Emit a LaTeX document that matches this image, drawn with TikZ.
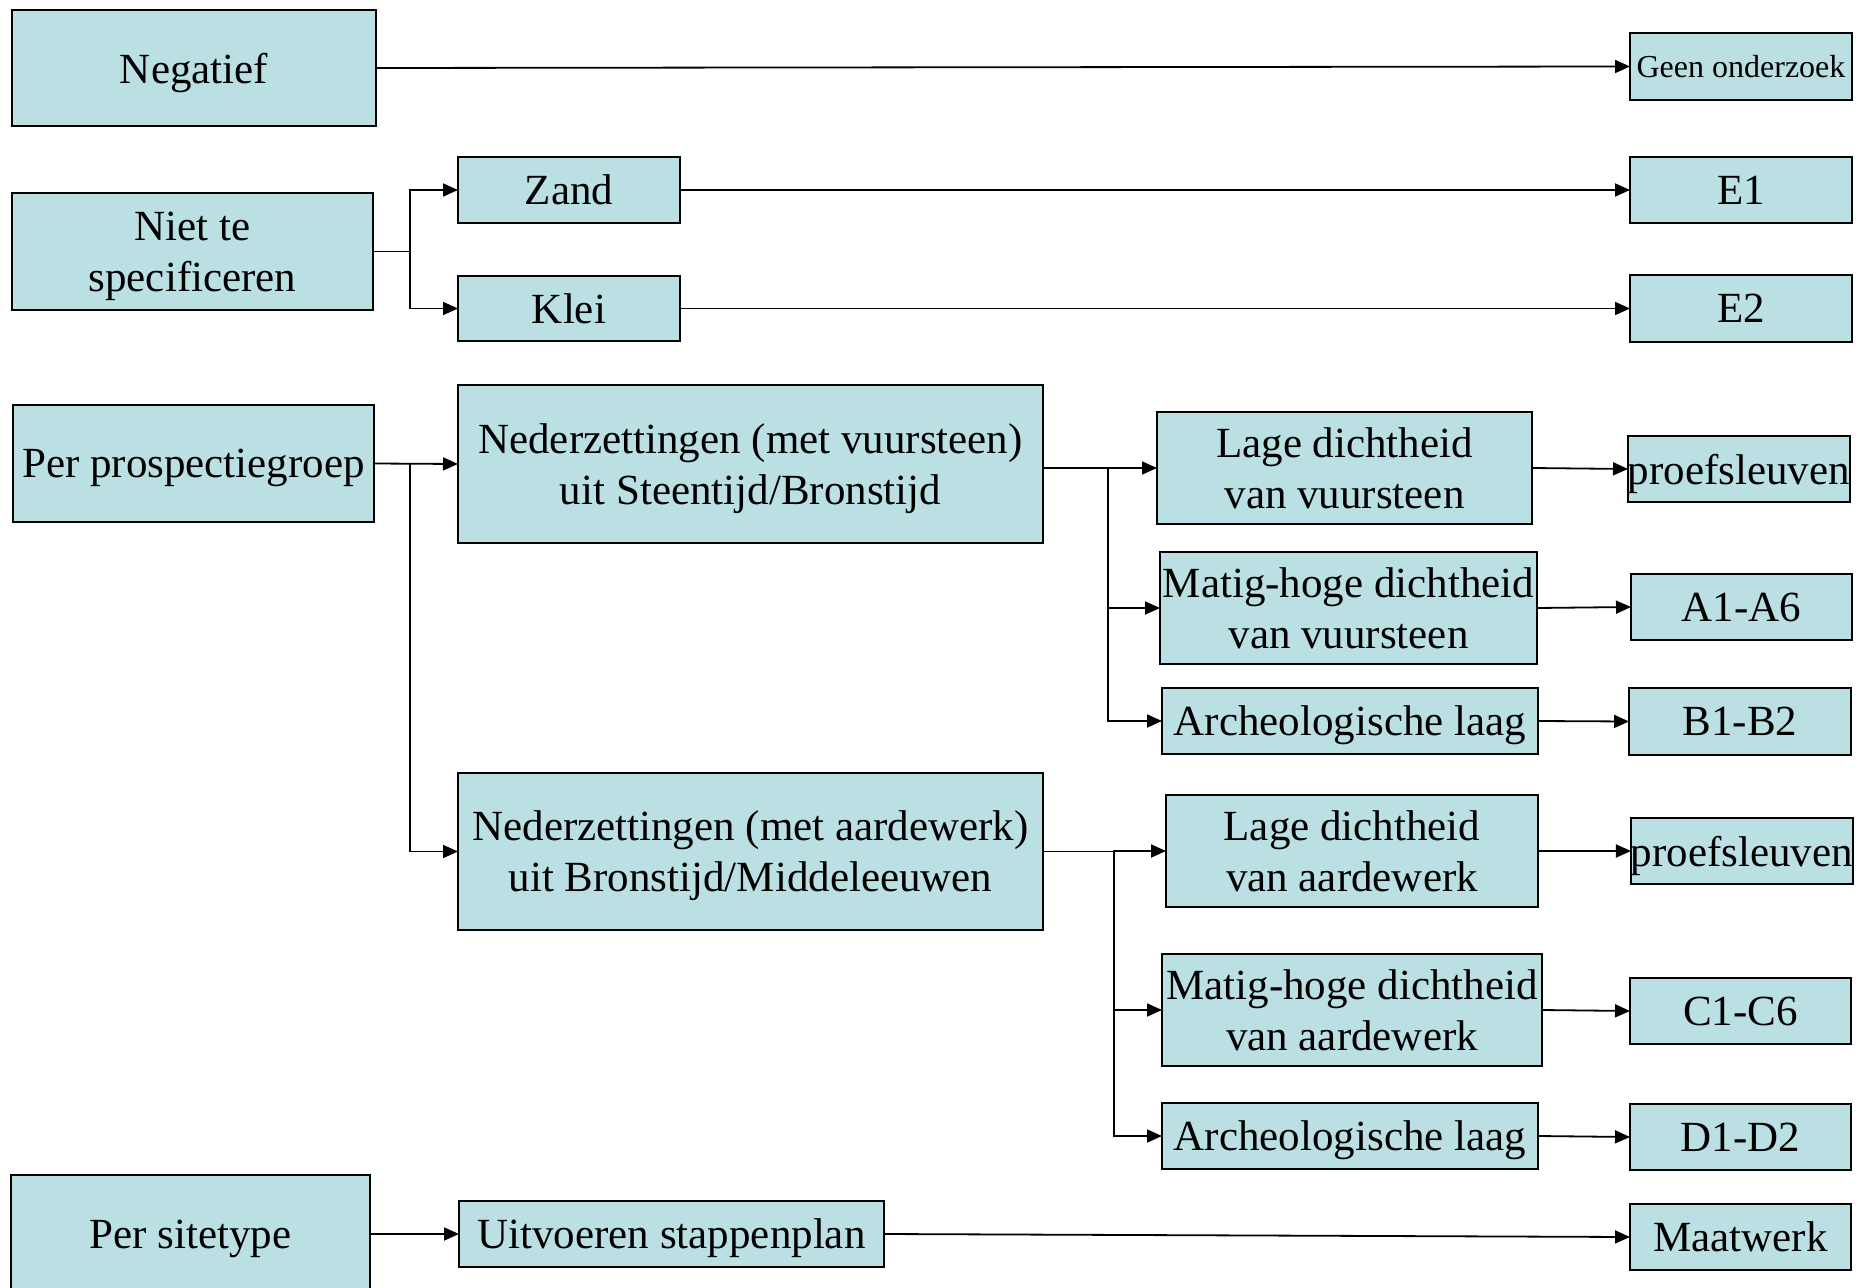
\documentclass[tikz,border=0pt]{standalone}
\usepackage{fontspec}
\setmainfont{Liberation Serif}
\usetikzlibrary{arrows.meta}
\definecolor{boxfill}{RGB}{187,224,227}
\tikzset{
 box/.style={draw=black, fill=boxfill, line width=1pt, inner sep=0pt, outer sep=0pt, align=center, text depth=0pt, font=\fontsize{21.5}{25.5}\selectfont},
 smallbox/.style={font=\fontsize{16}{19}\selectfont},
 conn/.style={line width=0.9pt, draw=black},
 arr/.style={conn, -{Triangle[length=7.5pt,width=6.5pt]}},
}
\newcommand\mkbox[7][]{%
 \pgfmathsetmacro\bxw{(#5-#3)*0.5}%
 \pgfmathsetmacro\bxh{(#6-#4)*0.5}%
 \node[box,#1,minimum width=\bxw pt,minimum height=\bxh pt] (#2) at ({(#3+#5)/2},{(#4+#6)/2}) {#7};}
\begin{document}
\begin{tikzpicture}[x=0.5pt,y=-0.5pt]
\useasboundingbox (0,0) rectangle (1861,1288);
% left column
\mkbox{neg}{12}{10}{376}{126}{Negatief}
\mkbox{niet}{12}{193}{373}{310}{Niet te\\specificeren}
\mkbox{ppg}{13}{405}{374}{522}{Per prospectiegroep}
\mkbox{pst}{11}{1175}{370}{1293}{Per sitetype}
% second column
\mkbox{zand}{458}{157}{680}{223}{Zand}
\mkbox{klei}{458}{276}{680}{341}{Klei}
\mkbox{nv}{458}{385}{1043}{543}{Nederzettingen (met vuursteen)\\uit Steentijd/Bronstijd}
\mkbox{na}{458}{773}{1043}{930}{Nederzettingen (met aardewerk)\\uit Bronstijd/Middeleeuwen}
\mkbox{uit}{459}{1201}{884}{1267}{Uitvoeren stappenplan}
% third column
\mkbox{lv}{1157}{412}{1532}{524}{Lage dichtheid\\van vuursteen}
\mkbox{mv}{1160}{552}{1537}{664}{Matig-hoge dichtheid\\van vuursteen}
\mkbox{al1}{1162}{688}{1538}{754}{Archeologische laag}
\mkbox{la}{1166}{795}{1538}{907}{Lage dichtheid\\van aardewerk}
\mkbox{ma}{1162}{954}{1542}{1066}{Matig-hoge dichtheid\\van aardewerk}
\mkbox{al2}{1162}{1103}{1538}{1169}{Archeologische laag}
% right column
\mkbox[smallbox]{geen}{1630}{33}{1852}{100}{Geen onderzoek}
\mkbox{e1}{1630}{157}{1852}{223}{E1}
\mkbox{e2}{1630}{275}{1852}{342}{E2}
\mkbox{p1}{1628}{436}{1850}{502}{proefsleuven}
\mkbox{aa}{1631}{574}{1852}{640}{A1-A6}
\mkbox{bb}{1629}{688}{1851}{755}{B1-B2}
\mkbox{p2}{1632}{818}{1852}{884}{proefsleuven}
\mkbox{cc}{1630}{978}{1851}{1044}{C1-C6}
\mkbox{dd}{1630}{1104}{1851}{1170}{D1-D2}
\mkbox{maat}{1630}{1204}{1851}{1270}{Maatwerk}
% connectors
\draw[arr] (neg.east) -- (geen.west);
\coordinate (j1) at (410,251.5);
\draw[conn] (niet.east) -- (j1);
\draw[arr] (j1) |- (zand.west);
\draw[arr] (j1) |- (klei.west);
\draw[arr] (zand.east) -- (e1.west);
\draw[arr] (klei.east) -- (e2.west);
\coordinate (j2) at (410,463.5);
\draw[arr] (ppg.east) -- (nv.west);
\draw[arr] (j2) |- (na.west);
\coordinate (j3) at (1108,468);
\draw[conn] (nv.east|-j3) -- (j3);
\draw[arr] (j3) -- (lv.west);
\draw[arr] (j3) |- (mv.west);
\draw[arr] (j3) |- (al1.west);
\coordinate (j4) at (1114,851.5);
\draw[conn] (na.east) -- (j4);
\draw[arr] (j4) |- (la.west);
\draw[arr] (j4) |- (ma.west);
\draw[arr] (j4) |- (al2.west);
\draw[arr] (lv.east) -- (p1.west);
\draw[arr] (mv.east) -- (aa.west);
\draw[arr] (al1.east) -- (bb.west);
\draw[arr] (la.east) -- (p2.west);
\draw[arr] (ma.east) -- (cc.west);
\draw[arr] (al2.east) -- (dd.west);
\draw[arr] (pst.east) -- (uit.west);
\draw[arr] (uit.east) -- (maat.west);
\end{tikzpicture}
\end{document}
